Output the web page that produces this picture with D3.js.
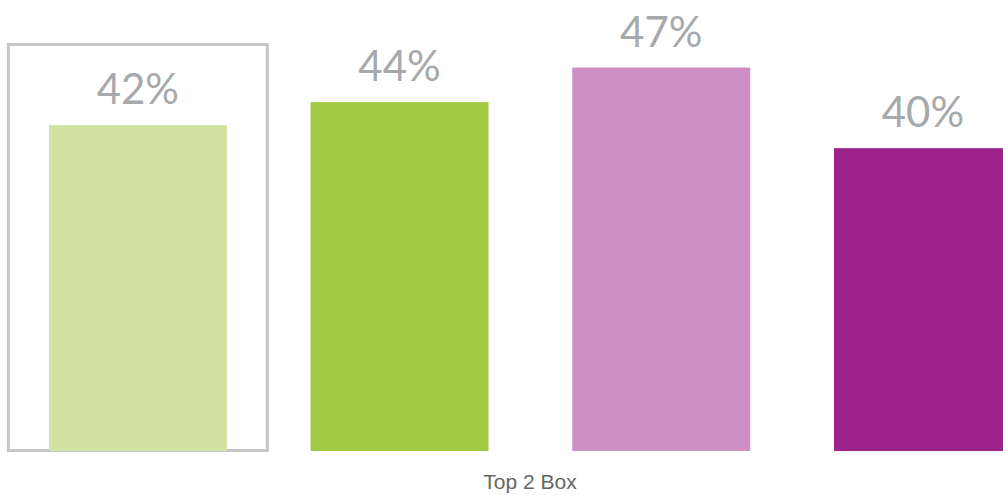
<!DOCTYPE html>
<html>
<head>
<meta charset="utf-8">
<script src="https://cdn.jsdelivr.net/npm/d3@7"></script>
<style>
  html, body { margin: 0; padding: 0; background: #fff; }
  svg { display: block; }
</style>
</head>
<body>
<svg id="chart" width="1003" height="495"></svg>
<script>
// Top 2 Box scores by segment
const categories = ["Segment 1", "Segment 2", "Segment 3", "Segment 4"];
const values = [42, 44, 47, 40];
const colors = ["#d2e3a1", "#a3c942", "#cd8fc4", "#9b2389"];
const axisTitle = "Top 2 Box";
const highlighted = "Segment 1";

const svg = d3.select("#chart");

const x = d3.scaleBand()
  .domain(categories)
  .range([7, 1053.8])
  .paddingInner(0.32)
  .paddingOuter(0.16);

const y = d3.scaleLinear()
  .domain([13.7, 50])
  .range([451, 33]);

// highlight frame around the first column
const hx = x(highlighted);
const pad = 40.5;
svg.append("rect")
  .attr("x", hx - pad)
  .attr("y", 44.5)
  .attr("width", x.bandwidth() + 2 * pad)
  .attr("height", 406)
  .attr("fill", "none")
  .attr("stroke", "#c6c6c6")
  .attr("stroke-width", 3);

const data = categories.map((c, i) => ({ c, v: values[i], color: colors[i] }));

svg.selectAll("rect.bar")
  .data(data)
  .join("rect")
  .attr("class", "bar")
  .attr("x", d => x(d.c))
  .attr("y", d => y(d.v))
  .attr("width", x.bandwidth())
  .attr("height", d => y.range()[0] - y(d.v))
  .attr("fill", d => d.color);

svg.selectAll("text.value")
  .data(data)
  .join("text")
  .attr("class", "value")
  .attr("x", d => x(d.c) + x.bandwidth() / 2)
  .attr("y", d => y(d.v) - 21)
  .attr("text-anchor", "middle")
  .attr("font-family", "Lato, 'Open Sans', sans-serif")
  .attr("font-size", 42)
  .attr("fill", "#a7a9ac")
  .text(d => d.v + "%");

svg.append("text")
  .attr("x", 530)
  .attr("y", 489)
  .attr("text-anchor", "middle")
  .attr("font-family", "'Liberation Sans Narrow', 'Liberation Sans', Arial, sans-serif")
  .attr("font-size", 21)
  .attr("fill", "#666666")
  .text(axisTitle);
</script>
</body>
</html>
